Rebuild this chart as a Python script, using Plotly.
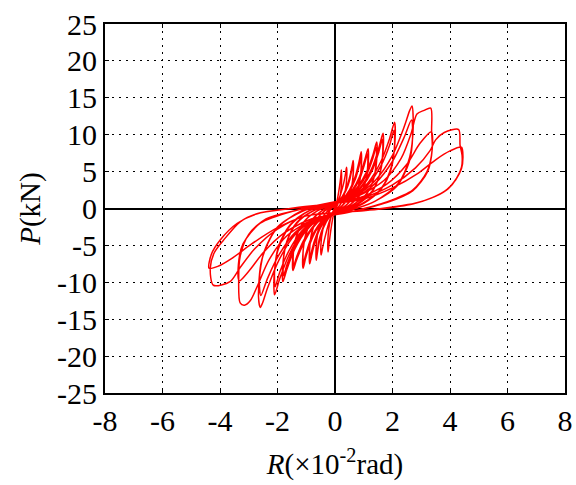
import plotly.graph_objects as go

# Drift R (x10^-2 rad) and load P (kN), one list per cycle
R_cycles = [
    [0, 0.08, 0.15, 0.2, 0.22, 0.23, 0.2, 0.12, 0.03, -0.06, -0.14, -0.2, -0.24, -0.25, -0.21, -0.12, 0],
    [0.1, 0.2, 0.3, 0.37, 0.4, 0.41, 0.36, 0.25, 0.1, -0.05, -0.2, -0.33, -0.43, -0.48, -0.49, -0.42, -0.28, -0.1],
    [0, 0.2, 0.38, 0.52, 0.6, 0.63, 0.64, 0.58, 0.45, 0.25, 0.05, -0.2, -0.4, -0.55, -0.62, -0.65, -0.66, -0.6, -0.46, -0.25, 0],
    [0.2, 0.38, 0.52, 0.62, 0.63, 0.57, 0.44, 0.24, 0.05, -0.2, -0.4, -0.55, -0.64, -0.65, -0.59, -0.45, -0.24, 0],
    [0.25, 0.5, 0.7, 0.84, 0.91, 0.92, 0.85, 0.68, 0.4, 0.1, -0.25, -0.5, -0.7, -0.82, -0.88, -0.89, -0.82, -0.65, -0.35, 0],
    [0.25, 0.5, 0.7, 0.84, 0.9, 0.91, 0.84, 0.67, 0.4, 0.1, -0.25, -0.5, -0.7, -0.82, -0.87, -0.88, -0.81, -0.64, -0.35, 0],
    [0.3, 0.6, 0.85, 1.03, 1.15, 1.16, 1.08, 0.88, 0.55, 0.15, -0.3, -0.6, -0.85, -1.02, -1.11, -1.12, -1.03, -0.82, -0.45, 0],
    [0.3, 0.6, 0.85, 1.02, 1.13, 1.14, 1.06, 0.86, 0.55, 0.15, -0.3, -0.6, -0.85, -1.01, -1.1, -1.11, -1.02, -0.81, -0.45, 0],
    [0.4, 0.8, 1.1, 1.32, 1.45, 1.46, 1.37, 1.12, 0.7, 0.2, -0.4, -0.8, -1.1, -1.34, -1.46, -1.47, -1.36, -1.08, -0.6, 0],
    [0.4, 0.8, 1.1, 1.31, 1.43, 1.44, 1.35, 1.1, 0.7, 0.2, -0.4, -0.8, -1.1, -1.33, -1.44, -1.45, -1.34, -1.06, -0.6, 0],
    [0.5, 0.95, 1.3, 1.53, 1.67, 1.68, 1.58, 1.3, 0.8, 0.25, -0.5, -1.0, -1.4, -1.67, -1.81, -1.82, -1.7, -1.35, -0.75, 0],
    [0.5, 0.95, 1.3, 1.52, 1.65, 1.66, 1.56, 1.28, 0.8, 0.25, -0.5, -1.0, -1.4, -1.66, -1.79, -1.8, -1.68, -1.33, -0.75, 0],
    [0.6, 1.15, 1.6, 1.9, 2.07, 2.09, 1.97, 1.62, 1.0, 0.3, -0.6, -1.15, -1.6, -1.92, -2.1, -2.12, -1.98, -1.58, -0.9, 0],
    [0.6, 1.15, 1.6, 1.9, 2.05, 2.07, 1.95, 1.6, 1.0, 0.3, -0.6, -1.15, -1.6, -1.92, -2.08, -2.1, -1.96, -1.56, -0.9, 0],
    [0.7, 1.4, 2.0, 2.4, 2.6, 2.68, 2.72, 2.6, 2.2, 1.4, 0.4, -0.7, -1.4, -1.95, -2.35, -2.52, -2.6, -2.66, -2.55, -2.05, -1.2, 0],
    [0.7, 1.4, 2.0, 2.4, 2.66, 2.7, 2.58, 2.15, 1.35, 0.4, -0.7, -1.4, -1.95, -2.35, -2.58, -2.63, -2.47, -2.0, -1.15, 0],
    [0.8, 1.7, 2.3, 2.65, 2.85, 3.1, 3.33, 3.36, 3.38, 3.2, 2.7, 1.8, 0.6, -0.8, -1.7, -2.3, -2.7, -2.95, -3.15, -3.3, -3.35, -3.3, -3.0, -2.4, -1.3, 0],
    [0.8, 1.8, 2.5, 2.95, 3.35, 3.38, 3.22, 2.7, 1.8, 0.6, -0.8, -1.8, -2.5, -3.0, -3.33, -3.36, -3.2, -2.6, -1.4, 0],
    [1.0, 2.0, 2.8, 3.3, 3.5, 3.8, 4.3, 4.35, 4.42, 4.4, 4.23, 3.94, 3.47, 2.78, 2.0, 1.0, -1.0, -2.0, -2.8, -3.3, -3.65, -4.23, -4.34, -4.2, -3.88, -3.3, -2.72, -1.56, 0],
    [1.0, 2.0, 2.9, 3.5, 4.0, 4.4, 4.45, 4.4, 4.2, 3.9, 3.4, 2.7, 1.5, -1.0, -2.0, -2.9, -3.6, -4.05, -4.38, -4.3, -4.0, -3.4, -2.7, -1.5, 0],
]
P_cycles = [
    [0, 1.2, 2.8, 4.3, 5.2, 4.0, 2.2, 0.8, 0.0, -1.0, -2.8, -4.6, -5.9, -4.6, -2.6, -0.9, 0.2],
    [0.9, 2.0, 3.4, 4.8, 5.6, 4.3, 2.5, 1.0, 0.1, -0.4, -1.8, -3.6, -5.3, -6.3, -4.9, -2.8, -1.0, 0.1],
    [0.3, 1.3, 2.6, 4.4, 5.9, 6.5, 5.0, 3.0, 1.4, 0.4, -0.3, -1.2, -2.6, -4.6, -6.2, -7.0, -5.6, -3.3, -1.4, -0.3, 0.4],
    [1.2, 2.4, 4.0, 5.9, 4.6, 2.8, 1.3, 0.3, -0.3, -1.1, -2.4, -4.2, -6.4, -5.1, -3.0, -1.3, -0.3, 0.4],
    [1.2, 2.5, 4.3, 6.4, 7.7, 6.0, 3.6, 1.7, 0.5, -0.3, -1.2, -2.6, -4.6, -6.5, -7.5, -6.0, -3.6, -1.6, -0.3, 0.5],
    [1.1, 2.3, 3.9, 5.8, 7.0, 5.5, 3.3, 1.6, 0.5, -0.3, -1.1, -2.4, -4.2, -5.9, -6.9, -5.5, -3.3, -1.5, -0.3, 0.5],
    [1.2, 2.5, 4.3, 6.5, 8.1, 6.4, 3.9, 1.9, 0.6, -0.3, -1.2, -2.6, -4.6, -6.7, -8.1, -6.4, -3.8, -1.7, -0.3, 0.6],
    [1.1, 2.3, 3.9, 5.9, 7.4, 5.9, 3.6, 1.8, 0.6, -0.3, -1.1, -2.4, -4.2, -6.1, -7.4, -5.9, -3.5, -1.6, -0.3, 0.6],
    [1.4, 3.0, 5.0, 7.3, 9.0, 7.2, 4.4, 2.1, 0.7, -0.3, -1.2, -2.8, -4.8, -7.0, -8.4, -6.7, -4.0, -1.8, -0.3, 0.7],
    [1.3, 2.8, 4.6, 6.7, 8.3, 6.7, 4.1, 2.0, 0.7, -0.3, -1.1, -2.6, -4.4, -6.5, -7.8, -6.2, -3.7, -1.7, -0.3, 0.7],
    [1.5, 3.2, 5.6, 8.3, 10.2, 8.2, 5.0, 2.4, 0.7, -0.4, -1.3, -3.0, -5.5, -8.2, -9.9, -7.9, -4.8, -2.1, -0.3, 0.8],
    [1.4, 3.0, 5.2, 7.6, 9.4, 7.6, 4.7, 2.2, 0.6, -0.4, -1.2, -2.8, -5.1, -7.5, -9.1, -7.3, -4.5, -1.9, -0.3, 0.7],
    [1.6, 3.5, 6.4, 9.5, 11.7, 9.4, 5.8, 2.8, 0.8, -0.4, -1.4, -3.3, -6.3, -9.5, -11.7, -9.3, -5.6, -2.4, -0.3, 0.9],
    [1.4, 3.2, 5.8, 8.6, 10.6, 8.5, 5.3, 2.6, 0.7, -0.4, -1.3, -3.0, -5.7, -8.6, -10.6, -8.4, -5.1, -2.2, -0.3, 0.8],
    [1.7, 3.8, 7.2, 11.0, 13.3, 13.9, 11.0, 7.0, 3.4, 1.0, -0.4, -1.5, -3.6, -7.0, -10.8, -12.8, -13.4, -12.0, -7.0, -2.8, -0.4, 0.9],
    [1.5, 3.4, 6.4, 9.6, 12.0, 9.8, 6.3, 3.0, 0.9, -0.4, -1.4, -3.3, -6.3, -9.5, -11.8, -9.6, -5.9, -2.5, -0.4, 0.8],
    [1.7, 3.8, 6.8, 10.2, 12.8, 13.3, 13.6, 10.5, 8.0, 5.0, 2.5, 0.9, -0.4, -1.6, -3.8, -7.0, -10.5, -12.5, -13.1, -12.8, -9.7, -6.5, -3.5, -1.4, -0.2, 0.9],
    [1.4, 3.3, 6.0, 8.8, 10.4, 8.0, 5.0, 2.4, 0.8, -0.4, -1.4, -3.4, -6.0, -8.5, -9.8, -7.6, -4.8, -2.0, -0.3, 0.8],
    [1.5, 3.2, 5.5, 7.8, 9.3, 10.3, 10.7, 8.6, 7.2, 5.6, 4.1, 2.7, 1.6, 0.7, 0.2, -0.3, -1.0, -2.8, -5.5, -8.0, -9.9, -10.4, -8.1, -6.0, -4.3, -1.8, -0.7, 0.0, 0.7],
    [1.3, 2.8, 4.8, 6.6, 7.8, 8.3, 7.0, 5.4, 3.9, 2.6, 1.5, 0.6, -0.1, -1.0, -2.6, -4.8, -6.8, -7.8, -8.1, -6.2, -4.3, -2.0, -0.7, 0.0, 0.6],
]

x_ticks = [-8, -6, -4, -2, 0, 2, 4, 6, 8]
y_ticks = [-25, -20, -15, -10, -5, 0, 5, 10, 15, 20, 25]

R_all = [v for c in R_cycles for v in c]
P_all = [v for c in P_cycles for v in c]

FONT = "Liberation Serif"
TICK_SIZE = 30
TITLE_SIZE = 29

fig = go.Figure()
fig.add_trace(go.Scatter(
    x=R_all, y=P_all, mode="lines",
    line=dict(color="#ff0000", width=1.5, shape="spline", smoothing=0.8),
    showlegend=False, hoverinfo="skip",
))

tick_font = dict(family=FONT, size=TICK_SIZE, color="black")
title_font = dict(family=FONT, size=TITLE_SIZE, color="black")

fig.update_layout(
    template="simple_white",
    width=576, height=485,
    margin=dict(l=105, r=11, t=24, b=92),
    paper_bgcolor="white", plot_bgcolor="white",
    font=dict(family=FONT, size=TICK_SIZE, color="black"),
    xaxis=dict(
        range=[-8, 8], tickmode="array", tickvals=x_ticks,
        ticktext=[str(t) for t in x_ticks],
        tickfont=tick_font,
        title=dict(text="<i>R</i>(×10<sup>-2</sup>rad)", font=title_font, standoff=18),
        showline=True, linecolor="black", linewidth=2, mirror="ticks",
        ticks="inside", ticklen=4, tickwidth=1, tickcolor="black",
        showgrid=True, gridcolor="black", gridwidth=1, griddash="2px,5px",
        zeroline=True, zerolinecolor="black", zerolinewidth=2,
        automargin=False,
    ),
    yaxis=dict(
        range=[-25, 25], tickmode="array", tickvals=y_ticks,
        ticktext=[str(t) for t in y_ticks],
        tickfont=tick_font,
        title=dict(text="<i>P</i>(kN)", font=title_font, standoff=8),
        showline=True, linecolor="black", linewidth=2, mirror="ticks",
        ticks="inside", ticklen=4, tickwidth=1, tickcolor="black",
        showgrid=True, gridcolor="black", gridwidth=1, griddash="2px,5px",
        zeroline=True, zerolinecolor="black", zerolinewidth=2,
        automargin=False,
    ),
)

fig.write_html("out.html")
